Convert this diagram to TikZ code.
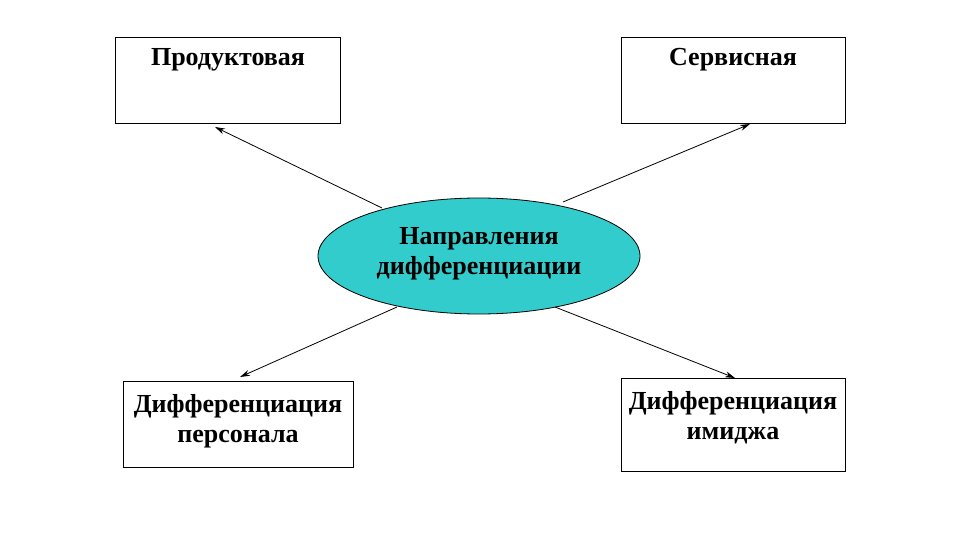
\documentclass[tikz,border=0pt]{standalone}
\usepackage{fontspec}
\setmainfont{Liberation Serif}
\usetikzlibrary{shapes.geometric,arrows.meta}
\definecolor{cy}{HTML}{33CCCC}
\begin{document}
\begin{tikzpicture}[x=1pt,y=-1pt,
  box/.style={draw,line width=0.8pt},
  lbl/.style={font=\bfseries\fontsize{26}{30}\selectfont,align=center},
  arr/.style={-{Stealth[length=10pt,width=6pt]},line width=0.8pt}]
\useasboundingbox (0,0) rectangle (960,540);
\draw[box] (115,37) rectangle (340,123);
\node[lbl] (p) at (228,60) {Продуктовая};
\draw[box] (621,37) rectangle (845,123);
\node[lbl] (s) at (733,60) {Сервисная};
\draw[box] (123,381) rectangle (353,467);
\node[lbl] (d1) at (238,421) {Дифференциация\\персонала};
\draw[box] (621,378) rectangle (845,471);
\node[lbl] (d2) at (733,418) {Дифференциация\\имиджа};
\node[ellipse,draw,fill=cy,line width=0.8pt,minimum width=322,minimum height=116] (e) at (479,256) {};
\node[lbl] (et) at (479,254) {Направления\\дифференциации};
\coordinate (a1) at (382,208); \coordinate (b1) at (215,127);
\coordinate (a2) at (563,202); \coordinate (b2) at (750,124);
\coordinate (a3) at (397,307); \coordinate (b3) at (240,377);
\coordinate (a4) at (555,307); \coordinate (b4) at (735,378);
\draw[arr] (a1) -- (b1);
\draw[arr] (a2) -- (b2);
\draw[arr] (a3) -- (b3);
\draw[arr] (a4) -- (b4);
\end{tikzpicture}
\end{document}
